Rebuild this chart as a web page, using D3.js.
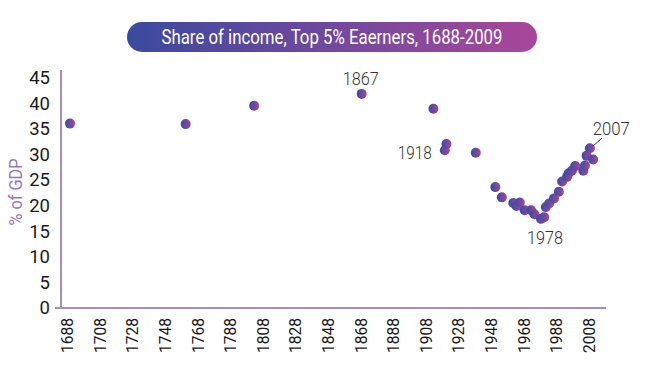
<!DOCTYPE html>
<html>
<head>
<meta charset="utf-8">
<script src="https://cdn.jsdelivr.net/npm/d3@7"></script>
<style>
  body { margin: 0; background: #fff; }
  svg { display: block; font-family: Roboto, sans-serif; }
</style>
</head>
<body>
<script>
// data
const years = [1688, 1759, 1801, 1867, 1911, 1918, 1919, 1937, 1949, 1953, 1960, 1962, 1964, 1967,
               1971, 1973, 1977, 1979, 1980, 1982, 1985, 1988, 1990, 1993, 1994, 1996, 1998, 2003,
               2004, 2005, 2007, 2009];
const shares = [36.0, 35.9, 39.5, 41.8, 38.9, 30.8, 32.0, 30.3, 23.6, 21.6, 20.5, 19.9, 20.6, 19.1,
                19.1, 18.3, 17.4, 17.7, 19.7, 20.4, 21.4, 22.7, 24.7, 25.6, 26.3, 26.8, 27.7, 26.8,
                27.8, 29.7, 31.2, 29.0];
const xTicks = d3.range(1688, 2009, 20);
const yTicks = [0, 5, 10, 15, 20, 25, 30, 35, 40, 45];
const notes = [
  { year: 1867, text: "1867" },
  { year: 1918, text: "1918" },
  { year: 1977, text: "1978" },
  { year: 2007, text: "2007" }
];

const W = 670, H = 372;
const svg = d3.select("body").append("svg").attr("width", W).attr("height", H);

const defs = svg.append("defs");
const g1 = defs.append("linearGradient").attr("id", "pill");
g1.append("stop").attr("offset", "0%").attr("stop-color", "#3a4a9f");
g1.append("stop").attr("offset", "100%").attr("stop-color", "#a9479b");
const g2 = defs.append("linearGradient").attr("id", "dot");
g2.append("stop").attr("offset", "0%").attr("stop-color", "#3b4ba2");
g2.append("stop").attr("offset", "100%").attr("stop-color", "#a4459c");

// title
svg.append("rect").attr("x", 127).attr("y", 22).attr("width", 410).attr("height", 30)
  .attr("rx", 15).attr("fill", "url(#pill)");
svg.append("text").attr("x", 332).attr("y", 44).attr("text-anchor", "middle")
  .attr("fill", "#fff").attr("font-size", 19.5)
  .attr("textLength", 341).attr("lengthAdjust", "spacingAndGlyphs")
  .text("Share of income, Top 5% Eaerners, 1688-2009");

const x = d3.scaleLinear().domain([1688, 2008]).range([70, 591.5]);
const y = d3.scaleLinear().domain([0, 45]).range([308, 77.5]);
const axisCol = "#a88cc6";

// axes lines
svg.append("line").attr("x1", 61).attr("x2", 61).attr("y1", 70).attr("y2", 309)
  .attr("stroke", axisCol).attr("stroke-width", 2);
svg.append("line").attr("x1", 55).attr("x2", 606).attr("y1", y(0)).attr("y2", y(0))
  .attr("stroke", axisCol).attr("stroke-width", 2);

// y axis
const yAxis = svg.append("g").attr("transform", "translate(50,0)")
  .call(d3.axisLeft(y).tickValues(yTicks).tickSize(0).tickPadding(0));
yAxis.select(".domain").remove();
yAxis.selectAll("text").attr("font-size", 18.5).attr("fill", "#1a1a1a")
  .attr("font-family", "Roboto, sans-serif");

// x axis
const xAxis = svg.append("g").attr("transform", "translate(-3,318)")
  .call(d3.axisBottom(x).tickValues(xTicks).tickFormat(d3.format("d")).tickSize(0).tickPadding(0));
xAxis.select(".domain").remove();
xAxis.selectAll("text").attr("font-size", 16.5).attr("fill", "#1a1a1a")
  .attr("font-family", "Roboto, sans-serif")
  .attr("text-anchor", "end").attr("transform", "rotate(-90)")
  .attr("x", 0).attr("y", 0).attr("dy", "0.35em")
  .attr("textLength", 35).attr("lengthAdjust", "spacingAndGlyphs");

// y title
svg.append("text").attr("transform", "translate(22,192) rotate(-90)")
  .attr("text-anchor", "middle").attr("fill", "#9a77b8").attr("font-size", 18.5)
  .attr("textLength", 67).attr("lengthAdjust", "spacingAndGlyphs")
  .text("% of GDP");

// dots
svg.append("g").selectAll("circle").data(years).join("circle")
  .attr("cx", d => x(d)).attr("cy", (d, i) => y(shares[i])).attr("r", 5)
  .attr("fill", "url(#dot)");

// annotations
const val = yr => shares[years.indexOf(yr)];
const lab = svg.append("g").attr("fill", "#333").attr("font-size", 18)
  .attr("font-weight", 300);
lab.append("text").attr("x", x(1867) - 1).attr("y", y(val(1867)) - 9)
  .attr("text-anchor", "middle").attr("textLength", 36).attr("lengthAdjust", "spacingAndGlyphs")
  .text(notes[0].text);
lab.append("text").attr("x", x(1918) - 13).attr("y", y(val(1918)) + 9)
  .attr("text-anchor", "end").attr("textLength", 34).attr("lengthAdjust", "spacingAndGlyphs")
  .text(notes[1].text);
lab.append("text").attr("x", x(1977) + 4).attr("y", y(val(1977)) + 25)
  .attr("text-anchor", "middle").attr("textLength", 36).attr("lengthAdjust", "spacingAndGlyphs")
  .text(notes[2].text);
lab.append("text").attr("x", x(2007) + 3).attr("y", y(val(2007)) - 13)
  .attr("textLength", 37).attr("lengthAdjust", "spacingAndGlyphs")
  .text(notes[3].text);
svg.append("line").attr("x1", x(2007) + 3).attr("y1", y(val(2007)) - 2)
  .attr("x2", x(2007) + 12).attr("y2", y(val(2007)) - 10)
  .attr("stroke", "#333").attr("stroke-width", 1);
</script>
</body>
</html>
